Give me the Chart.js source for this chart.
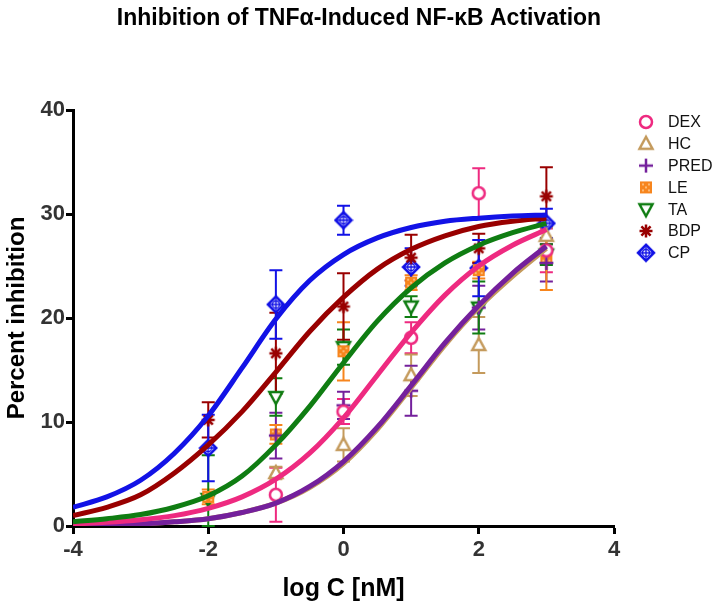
<!DOCTYPE html>
<html>
<head>
<meta charset="utf-8">
<script src="https://cdn.jsdelivr.net/npm/chart.js@4"></script>
<style>
  body { margin: 0; background: #fff; }
  #chart { display: block; }
</style>
</head>
<body>
<canvas id="chart" width="718" height="614"></canvas>
<script>
// measured points (log C in nM) with SEM
const doseX = [-2, -1, 0, 1, 2, 3];
const dexX = [-1, 0, 1, 2, 3];
const dexY = [3.0, 11.0, 18.1, 32.0, 26.5];
const dexErr = [2.6, 1.2, 1.5, 2.4, 2.1];
const hcX = [-1, 0, 1, 2, 3];
const hcY = [5.1, 7.8, 14.5, 17.4, 27.9];
const hcErr = [0.6, 1.6, 2.0, 2.7, 0.8];
const predX = [-1, 0, 1, 2, 3];
const predY = [8.7, 11.6, 13.0, 21.0, 25.3];
const predErr = [2.2, 1.3, 2.4, 2.1, 1.8];
const leY = [2.8, 8.8, 16.8, 23.4, 24.6, 25.8];
const leErr = [0.7, 0.9, 2.8, 0.7, 0.8, 3.1];
const taY = [2.6, 12.4, 17.2, 21.1, 21.0, 26.1];
const taErr = [4.2, 1.8, 1.7, 1.0, 2.5, 1.0];
const bdpY = [10.2, 16.6, 21.1, 25.8, 26.7, 31.7];
const bdpErr = [1.7, 3.9, 3.2, 2.2, 1.4, 2.8];
const cpY = [7.5, 21.3, 29.4, 24.9, 24.8, 29.1];
const cpErr = [3.2, 3.3, 1.4, 1.8, 2.7, 1.4];

// fitted curves
const curveX = [-4, -3.5, -3, -2.5, -2, -1.5, -1, -0.5, 0, 0.5, 1, 1.5, 2, 2.5, 3];
const cpFit   = [1.8, 2.8, 4.4, 7.0, 10.6, 15.2, 19.9, 23.6, 26.1, 27.7, 28.7, 29.3, 29.6, 29.8, 29.9];
const bdpFit  = [1.0, 1.8, 3.0, 5.1, 7.8, 11.0, 14.8, 18.7, 22.0, 24.7, 26.6, 27.9, 28.8, 29.3, 29.6];
const taFit   = [0.4, 0.7, 1.1, 1.8, 2.9, 4.8, 7.8, 11.5, 15.7, 19.7, 22.9, 25.3, 27.0, 28.2, 29.1];
const dexFit  = [0.2, 0.35, 0.6, 1.0, 1.7, 2.8, 4.5, 7.0, 10.4, 14.5, 18.6, 22.2, 25.0, 27.0, 28.5];
const predFit = [0.05, 0.1, 0.2, 0.4, 0.7, 1.3, 2.2, 3.8, 6.2, 9.5, 13.5, 17.6, 21.2, 24.3, 26.9];
const hcFit   = [0.05, 0.1, 0.2, 0.4, 0.7, 1.3, 2.2, 3.7, 6.0, 9.3, 13.3, 17.4, 21.0, 24.0, 26.7];

const xTicks = [-4, -2, 0, 2, 4];

const FONT = "'Liberation Sans', Arial, Helvetica, sans-serif";
const col = {
  DEX: '#ee2a80', HC: '#c49a5c', PRED: '#74209c', LE: '#f7851d',
  TA: '#0f7d12', BDP: '#990000', CP: '#1212e6'
};

function marker(kind, color) {
  const c = document.createElement('canvas');
  c.width = c.height = 20;
  const g = c.getContext('2d');
  g.translate(10, 10);
  g.strokeStyle = color; g.fillStyle = color; g.lineWidth = 2.5;
  g.beginPath();
  if (kind === 'circle') {
    g.arc(0, 0, 6, 0, Math.PI * 2);
    g.fillStyle = '#fff'; g.fill(); g.stroke();
  } else if (kind === 'tri' || kind === 'triDown') {
    const s = kind === 'tri' ? 1 : -1;
    g.moveTo(0, -7 * s); g.lineTo(6.5, 5 * s); g.lineTo(-6.5, 5 * s); g.closePath();
    g.fillStyle = '#fff'; g.fill(); g.stroke();
  } else if (kind === 'plus') {
    g.moveTo(-7, 0); g.lineTo(7, 0); g.moveTo(0, -7); g.lineTo(0, 7); g.stroke();
  } else if (kind === 'square') {
    g.fillRect(-6, -6, 12, 12);
    g.fillStyle = '#ffd9a8';
    [[-3, -3], [3, -3], [0, 0], [-3, 3], [3, 3]].forEach(p => g.fillRect(p[0] - 0.8, p[1] - 0.8, 1.6, 1.6));
  } else if (kind === 'star') {
    for (let k = 0; k < 4; k++) {
      const a = k * Math.PI / 4;
      g.moveTo(-6.5 * Math.cos(a), -6.5 * Math.sin(a));
      g.lineTo(6.5 * Math.cos(a), 6.5 * Math.sin(a));
    }
    g.stroke();
  } else if (kind === 'diamond') {
    g.moveTo(0, -8); g.lineTo(8, 0); g.lineTo(0, 8); g.lineTo(-8, 0); g.closePath();
    g.fillStyle = '#fff'; g.fill(); g.stroke();
    g.lineWidth = 1.3;
    g.beginPath(); g.arc(0, 0, 3.5, 0, Math.PI * 2); g.stroke();
    g.beginPath(); g.moveTo(-7, 0); g.lineTo(7, 0); g.moveTo(0, -7); g.lineTo(0, 7); g.stroke();
  }
  return c;
}

function pts(xs, ys) { return xs.map((x, i) => ({ x, y: ys[i] })); }

function pointSet(label, xs, ys, errs, kind) {
  return {
    label, data: pts(xs, ys), errors: errs, legend: true,
    borderColor: col[label], backgroundColor: col[label],
    pointStyle: marker(kind, col[label]), pointRadius: 8, showLine: false, order: 1
  };
}

function curveSet(label, ys) {
  return {
    label: label + ' fit', data: pts(curveX, ys), showLine: true,
    borderColor: col[label], borderWidth: 5, pointRadius: 0,
    cubicInterpolationMode: 'monotone', order: 0
  };
}

const datasets = [
  curveSet('CP', cpFit),
  curveSet('BDP', bdpFit),
  curveSet('TA', taFit),
  curveSet('DEX', dexFit),
  curveSet('PRED', predFit),
  curveSet('HC', hcFit),
  pointSet('DEX', dexX, dexY, dexErr, 'circle'),
  pointSet('HC', hcX, hcY, hcErr, 'tri'),
  pointSet('PRED', predX, predY, predErr, 'plus'),
  pointSet('LE', doseX, leY, leErr, 'square'),
  pointSet('TA', doseX, taY, taErr, 'triDown'),
  pointSet('BDP', doseX, bdpY, bdpErr, 'star'),
  pointSet('CP', doseX, cpY, cpErr, 'diamond')
];

const errorBars = {
  id: 'errorBars',
  beforeDatasetsDraw(chart) {
    const { ctx, scales: { x, y } } = chart;
    chart.data.datasets.forEach(ds => {
      if (!ds.errors) return;
      ctx.save();
      ctx.strokeStyle = ds.borderColor;
      ctx.lineWidth = 2;
      ds.data.forEach((p, j) => {
        const e = ds.errors[j];
        const px = x.getPixelForValue(p.x);
        const t = y.getPixelForValue(p.y + e);
        const b = y.getPixelForValue(Math.max(p.y - e, 0));
        ctx.beginPath();
        ctx.moveTo(px, t); ctx.lineTo(px, b);
        ctx.moveTo(px - 6.5, t); ctx.lineTo(px + 6.5, t);
        ctx.moveTo(px - 6.5, b); ctx.lineTo(px + 6.5, b);
        ctx.stroke();
      });
      ctx.restore();
    });
  }
};

const sideLegend = {
  id: 'sideLegend',
  afterDraw(chart) {
    const ctx = chart.ctx;
    let yy = 122;
    ctx.save();
    ctx.font = '16px ' + FONT;
    ctx.fillStyle = '#111';
    ctx.textBaseline = 'middle';
    chart.data.datasets.filter(d => d.legend).forEach(d => {
      ctx.drawImage(d.pointStyle, 646 - 10, yy - 10);
      ctx.fillText(d.label, 668, yy + 1);
      yy += 21.8;
    });
    ctx.restore();
  }
};

new Chart(document.getElementById('chart'), {
  type: 'scatter',
  data: { datasets },
  plugins: [errorBars, sideLegend],
  options: {
    responsive: false,
    animation: false,
    layout: { padding: 0 },
    plugins: {
      legend: { display: false },
      tooltip: { enabled: false },
      title: {
        display: true,
        text: 'Inhibition of TNF\u03b1-Induced NF-\u03baB Activation',
        color: '#000',
        font: { family: FONT, size: 23, weight: 'bold' },
        padding: { top: 5, bottom: 77.4 }
      }
    },
    scales: {
      x: {
        type: 'linear', min: -4, max: 4,
        afterBuildTicks: s => { s.ticks = xTicks.map(v => ({ value: v })); },
        afterFit: s => { s.height = 88; },
        border: { color: '#000', width: 3 },
        grid: { drawOnChartArea: false, drawTicks: true, tickLength: 8, tickWidth: 3, tickColor: '#000' },
        ticks: { color: '#333', padding: 3, font: { family: FONT, size: 22, weight: 'bold' } },
        title: {
          display: true, text: 'log C [nM]', color: '#000',
          font: { family: FONT, size: 25, weight: 'bold' }, padding: { top: 0, bottom: 10 }
        }
      },
      y: {
        type: 'linear', min: 0, max: 40,
        ticks: { stepSize: 10, color: '#333', padding: 1, font: { family: FONT, size: 22, weight: 'bold' } },
        afterFit: s => { s.width = 73; },
        border: { color: '#000', width: 3 },
        grid: { drawOnChartArea: false, drawTicks: true, tickLength: 7, tickWidth: 3, tickColor: '#000' },
        title: {
          display: true, text: 'Percent inhibition', color: '#000',
          font: { family: FONT, size: 24, weight: 'bold' }, padding: { top: 3, bottom: 0 }
        }
      },
      // empty strip on the right that holds the legend
      side: {
        type: 'linear', position: 'right', min: 0, max: 40,
        ticks: { display: false },
        grid: { display: false },
        border: { display: false },
        afterFit: s => { s.width = 104; }
      }
    }
  }
});
</script>
</body>
</html>
